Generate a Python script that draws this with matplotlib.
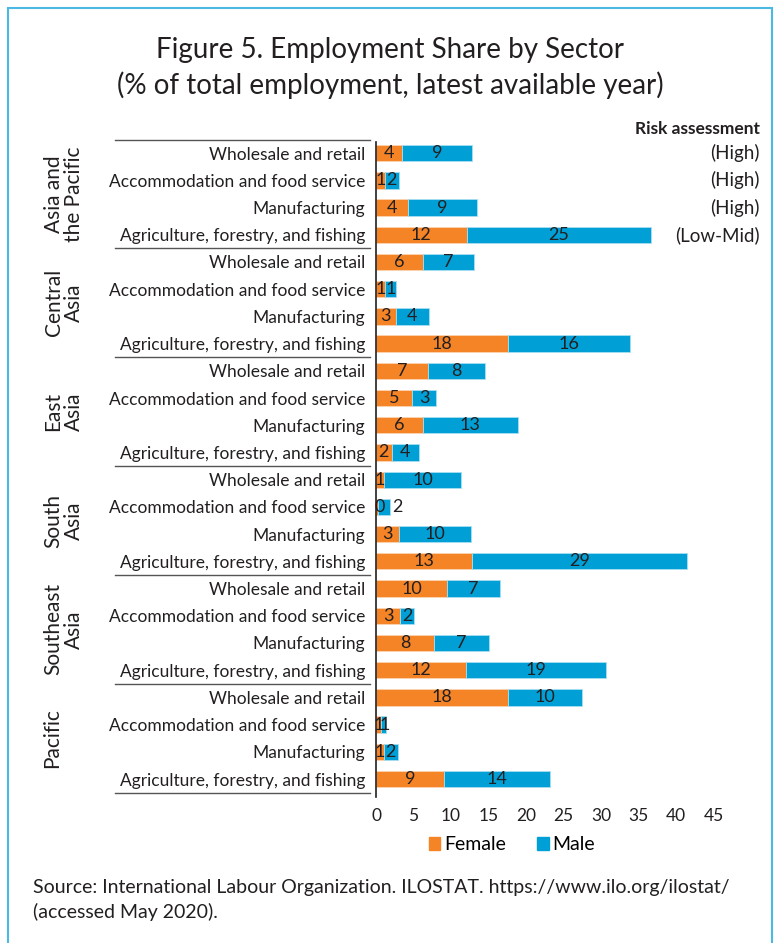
import matplotlib.pyplot as plt
from matplotlib.patches import Patch, Rectangle

plt.rcParams['font.family'] = ['Lato', 'DejaVu Sans']

# data (share of total employment, %)
regions = ["Asia and\nthe Pacific", "Central\nAsia", "East\nAsia", "South\nAsia", "Southeast\nAsia", "Pacific"]
sectors = ["Wholesale and retail", "Accommodation and food service", "Manufacturing",
           "Agriculture, forestry, and fishing"]
female = [3.5, 1.2, 4.3, 12.1,
          6.3, 1.2, 2.6, 17.6,
          6.9, 4.8, 6.2, 2.1,
          1.1, 0.2, 3.1, 12.8,
          9.5, 3.2, 7.7, 12.0,
          17.6, 0.7, 1.0, 9.0]
male = [9.3, 1.8, 9.1, 24.6,
        6.8, 1.4, 4.4, 16.2,
        7.6, 3.2, 12.7, 3.6,
        10.2, 1.7, 9.6, 28.6,
        7.0, 1.9, 7.3, 18.7,
        9.8, 0.6, 1.9, 14.2]
risk = ["(High)", "(High)", "(High)", "(Low-Mid)"]
xticks = [0, 5, 10, 15, 20, 25, 30, 35, 40, 45]

orange = "#f58426"
blue = "#00a0d6"
dark = "#231f20"

fig = plt.figure(figsize=(7.8, 9.43), dpi=100)
W, H = 780, 943

ax_left, ax_right = 376, 736
ax_top, ax_bot = 141.7, 797
ax = fig.add_axes([ax_left / W, 1 - ax_bot / H, (ax_right - ax_left) / W, (ax_bot - ax_top) / H])

n = len(female)
ypos = list(range(n))
labels = sectors * len(regions)

ax.barh(ypos, female, height=0.6, color=orange, edgecolor="#fbd3b3", linewidth=0.6)
ax.barh(ypos, male, left=female, height=0.6, color=blue, edgecolor="#a8def2", linewidth=0.6)

for i in range(n):
    f, m = female[i], male[i]
    fx = 0.45 if f < 0.5 else f / 2
    ax.text(fx, i, f"{f:.0f}", ha="center", va="center", fontsize=13, color=dark)
    if f < 0.5 and m < 2:
        # label sits just outside the tiny bar
        ax.text(f + m + 0.3, i, f"{m:.0f}", ha="left", va="center", fontsize=13, color=dark)
    else:
        ax.text(f + m / 2 + (0.15 if m < 1 else 0), i, f"{m:.0f}", ha="center", va="center",
                fontsize=13, color=dark)

ax.set_xlim(0, 48)
ax.set_ylim(23.66, -0.42)
ax.set_yticks(ypos)
ax.set_yticklabels(labels, fontsize=12.5, color=dark)
ax.tick_params(axis="y", length=0, pad=8)
ax.set_xticks(xticks)
ax.set_xticklabels([str(t) for t in xticks], fontsize=12.5, color=dark)
ax.tick_params(axis="x", length=0, pad=8)
for s in ["top", "right", "bottom"]:
    ax.spines[s].set_visible(False)
ax.spines["left"].set_color(dark)
ax.spines["left"].set_linewidth(1.2)

# group separators and region labels
tr = ax.get_yaxis_transform()
x0 = (115 - ax_left) / (ax_right - ax_left)
x1 = (370 - ax_left) / (ax_right - ax_left)
for g in range(len(regions) + 1):
    ax.plot([x0, x1], [g * 4 - 0.5, g * 4 - 0.5], color="#555555", lw=1, transform=tr, clip_on=False)
for g, r in enumerate(regions):
    xc = 52 if "\n" not in r else 64
    ax.text((xc - ax_left) / (ax_right - ax_left), g * 4 + 1.5, r, rotation=90, ha="center", va="center",
            fontsize=15, color=dark, transform=tr, linespacing=1.05)

# risk assessment column
fig.text(760 / W, 1 - 129 / H, "Risk assessment", ha="right", va="center", fontsize=12.5,
         fontweight="bold", color=dark)
for i, rk in enumerate(risk):
    ax.text((760 - ax_left) / (ax_right - ax_left), i, rk, ha="right", va="center", fontsize=13.5,
            color=dark, transform=tr)

fig.text(0.5, 1 - 50 / H, "Figure 5. Employment Share by Sector", ha="center", va="center",
         fontsize=20, color=dark)
fig.text(0.5, 1 - 85 / H, "(% of total employment, latest available year)", ha="center", va="center",
         fontsize=20, color=dark)

handles = [Patch(color=orange, label="Female"), Patch(color=blue, label="Male")]
fig.legend(handles=handles, loc="center", bbox_to_anchor=(512 / W, 1 - 845 / H), ncol=2, frameon=False,
           fontsize=14, handlelength=0.6, handleheight=0.6, handletextpad=0.2, columnspacing=1.6)

fig.text(33 / W, 1 - 887 / H, "Source: International Labour Organization. ILOSTAT. https://www.ilo.org/ilostat/",
         ha="left", va="center", fontsize=14, color=dark)
fig.text(33 / W, 1 - 912 / H, "(accessed May 2020).", ha="left", va="center", fontsize=14, color=dark)

fig.patches.append(Rectangle((8 / W, -0.05), (772 - 8) / W, 1.05 - 8 / H, transform=fig.transFigure,
                             fill=False, edgecolor="#4cb8e4", linewidth=1.5))

fig.savefig("out.png", dpi=100)
